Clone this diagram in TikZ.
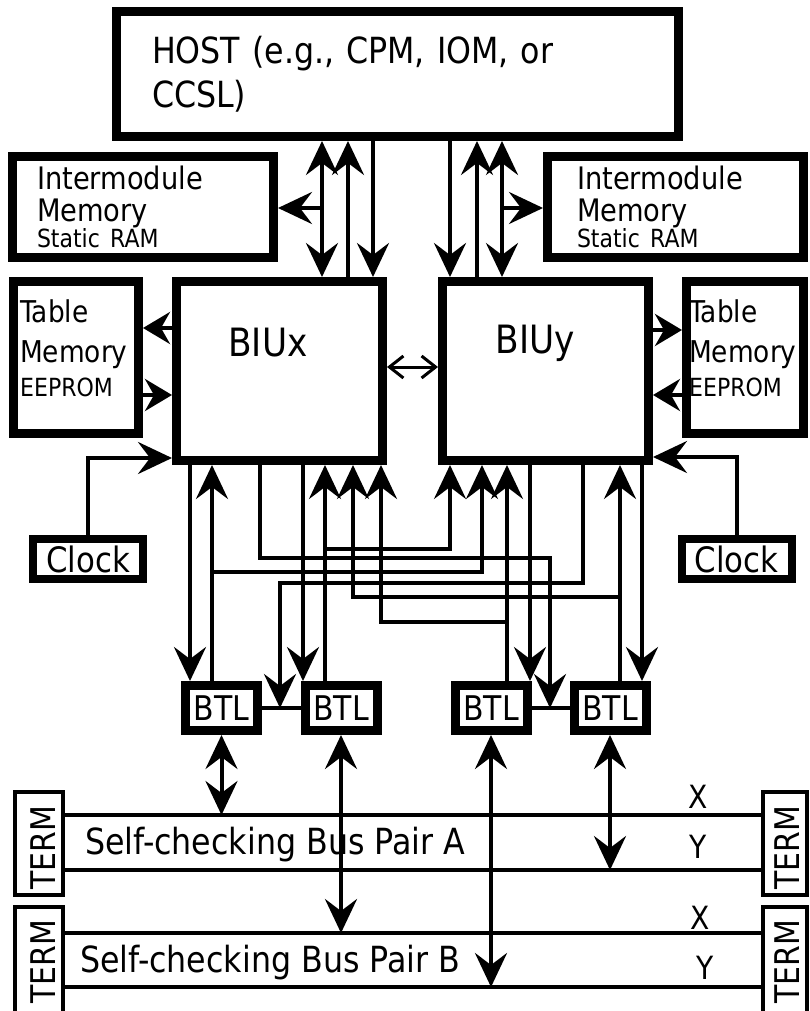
\documentclass[tikz,border=0pt]{standalone}
\usepackage{fontspec}
\setmainfont{DejaVu Sans}[FakeStretch=0.88]
\usetikzlibrary{arrows.meta}
\tikzset{
  bigtip/.tip = {Stealth[length=34pt, width=32pt, inset=12pt]},
  smltip/.tip = {Stealth[length=27pt, width=32pt, inset=9pt]},
  barbtip/.tip= {Straight Barb[length=14pt, width=22pt, line width=3pt]},
  bx/.style   = {draw, line width=9pt, inner sep=0pt, align=left},
  tabtxt/.style = {inner sep=0pt, align=left, anchor=north west,
                 font=\fontsize{30}{40}\selectfont},
  clk/.style  = {draw, line width=8pt, inner sep=0pt,
                 minimum width=110pt, minimum height=40pt,
                 font=\fontsize{35}{40}\selectfont},
  btl/.style  = {draw, line width=9pt, inner sep=0pt,
                 minimum width=72pt, minimum height=45pt,
                 font=\fontsize{34}{36}\selectfont},
  term/.style = {draw, line width=4pt, inner sep=0pt},
  termtxt/.style = {inner sep=0pt, rotate=90, font=\fontsize{34}{36}\selectfont},
  lbl/.style  = {inner sep=0pt, font=\fontsize{36}{40}\selectfont},
  biulbl/.style = {inner sep=0pt, font=\fontsize{39}{42}\selectfont},
  xy/.style   = {inner sep=0pt, font=\fontsize{32}{36}\selectfont},
  ln/.style   = {line width=4pt},
  bus/.style  = {line width=4.5pt},
  A/.style    = {ln, -bigtip},
  AR/.style   = {ln, bigtip-},
  AA/.style   = {ln, bigtip-bigtip},
  As/.style   = {ln, -smltip},
  Ab/.style   = {line width=3pt, barbtip-barbtip},
}

\begin{document}
\begin{tikzpicture}[x=1pt, y=-1pt]
\useasboundingbox (0,0) rectangle (809,1011);

%% ─── Host and memories ───────────────────────────────────────────
\node[bx, minimum width=562pt, minimum height=125pt, text width=491pt,
      font=\fontsize{36}{44}\selectfont]
  (host) at (397.5,74) {HOST (e.g., CPM, IOM, or\\CCSL)};

\node[bx, minimum width=261pt, minimum height=101pt, text width=212pt,
      font=\fontsize{31}{32}\selectfont]
  (imml) at (143,207)
  {Intermodule\\Memory\\[-6pt]{\fontsize{25}{26}\selectfont Static RAM}};
\node[bx, minimum width=256pt, minimum height=101pt, text width=197pt,
      font=\fontsize{31}{32}\selectfont]
  (immr) at (675.5,207)
  {Intermodule\\Memory\\[-6pt]{\fontsize{25}{26}\selectfont Static RAM}};

\node[bx, minimum width=125pt, minimum height=152pt] (tabl) at (76,357.5)  {};
\node[bx, minimum width=117pt, minimum height=152pt] (tabr) at (745,357.5) {};
\node[tabtxt] (tablt) at (20,300)
  {Table\\Memory\\[-6pt]{\fontsize{25}{30}\selectfont EEPROM}};
\node[tabtxt] (tabrt) at (689,300)
  {Table\\Memory\\[-6pt]{\fontsize{25}{30}\selectfont EEPROM}};

%% ─── Bus interface units ─────────────────────────────────────────
\node[bx, minimum width=206pt, minimum height=179pt] (biux) at (279.5,371) {};
\node[bx, minimum width=206pt, minimum height=179pt] (biuy) at (545.5,371) {};
\node[biulbl] (biuxt) at (268,343) {BIUx};
\node[biulbl] (biuyt) at (535,343) {BIUy};

\node[clk] (clkl) at (88,559) {Clock};
\node[clk] (clkr) at (736.5,559) {Clock};

\node[btl] (btla) at (221.5,708) {BTL};
\node[btl] (btlb) at (341,708)   {BTL};
\node[btl] (btlc) at (491,708)   {BTL};
\node[btl] (btld) at (610,708)   {BTL};

%% ─── Host <-> BIU ────────────────────────────────────────────────
\draw[AA] (322,0 |- host.south) -- (322,0 |- biux.north);
\draw[AR] (348,0 |- host.south) -- (348,0 |- biux.north);
\draw[A]  (373,0 |- host.south) -- (373,0 |- biux.north);
\draw[A]  (322,208) -- (imml.east |- 0,208);

\draw[A]  (450,0 |- host.south) -- (450,0 |- biuy.north);
\draw[AR] (477,0 |- host.south) -- (477,0 |- biuy.north);
\draw[AA] (502,0 |- host.south) -- (502,0 |- biuy.north);
\draw[A]  (502,208) -- (immr.west |- 0,208);

%% ─── Table memories, clocks, cross link ─────────────────────────
\draw[As] (biux.west |- 0,328) -- (tabl.east |- 0,328);
\draw[As] (tabl.east |- 0,395) -- (biux.west |- 0,395);
\draw[As] (biuy.east |- 0,330) -- (tabr.west |- 0,330);
\draw[As] (tabr.west |- 0,395) -- (biuy.east |- 0,395);

\draw[Ab] (biux.east |- 0,367) -- (biuy.west |- 0,367);

\draw[A] (clkl.north) |- (biux.west |- 0,458);
\draw[A] (clkr.north) |- (biuy.east |- 0,457);

%% ─── BIU <-> BTL wiring ──────────────────────────────────────────
\draw[ln] (btla.east) -- (btlb.west);
\draw[ln] (btlc.east) -- (btld.west);

\draw[A]  (190,0 |- biux.south) -- (190,0 |- btla.north);
\draw[AR] (212,0 |- biux.south) -- (212,0 |- btla.north);
\draw[A]  (212,572) -| (482,0 |- biuy.south);
\draw[A]  (260,0 |- biux.south) |- (550,558) -- (550,0 |- btlc.east);
\draw[A]  (583,0 |- biuy.south) |- (280,583) -- (280,0 |- btla.east);
\draw[A]  (303,0 |- biux.south) -- (303,0 |- btlb.north);
\draw[AR] (325,0 |- biux.south) -- (325,0 |- btlb.north);
\draw[A]  (325,549) -| (450,0 |- biuy.south);
\draw[AR] (353,0 |- biux.south) |- (620,597);
\draw[AR] (381,0 |- biux.south) |- (507,622);

\draw[AR] (507,0 |- biuy.south) -- (507,0 |- btlc.north);
\draw[A]  (530,0 |- biuy.south) -- (530,0 |- btlc.north);
\draw[AR] (620,0 |- biuy.south) -- (620,0 |- btld.north);
\draw[A]  (642,0 |- biuy.south) -- (642,0 |- btld.north);

%% ─── Bus pairs ───────────────────────────────────────────────────
\node[term, minimum width=48pt, minimum height=103pt] (tla) at (39,843.5)  {};
\node[term, minimum width=48pt, minimum height=106pt] (tlb) at (39,960)    {};
\node[term, minimum width=44pt, minimum height=103pt] (tra) at (785,843.5) {};
\node[term, minimum width=44pt, minimum height=106pt] (trb) at (785,960)   {};
\node[termtxt] (tlat) at (43,848)  {TERM};
\node[termtxt] (tlbt) at (43,962)  {TERM};
\node[termtxt] (trat) at (787,848) {TERM};
\node[termtxt] (trbt) at (787,962) {TERM};

\draw[bus] (tla.east |- 0,815) coordinate (ax) -- (tra.west |- 0,815);
\draw[bus] (tla.east |- 0,870) coordinate (ay) -- (tra.west |- 0,870);
\draw[bus] (tlb.east |- 0,933) coordinate (bx) -- (trb.west |- 0,933);
\draw[bus] (tlb.east |- 0,987) coordinate (by) -- (trb.west |- 0,987);

\node[lbl, anchor=west] (pa) at (85,845) {Self-checking Bus Pair A};
\node[lbl, anchor=west] (pb) at (80,963) {Self-checking Bus Pair B};
\node[xy] (xa) at (698,797) {X};
\node[xy] (ya) at (698,847) {Y};
\node[xy] (xb) at (700,918) {X};
\node[xy] (yb) at (705,968) {Y};

\draw[AA] (btla.south) -- (btla.south |- ax);
\draw[AA] (btlb.south) -- (btlb.south |- bx);
\draw[AA] (btlc.south) -- (btlc.south |- by);
\draw[AA] (btld.south) -- (btld.south |- ay);

\end{tikzpicture}
\end{document}
